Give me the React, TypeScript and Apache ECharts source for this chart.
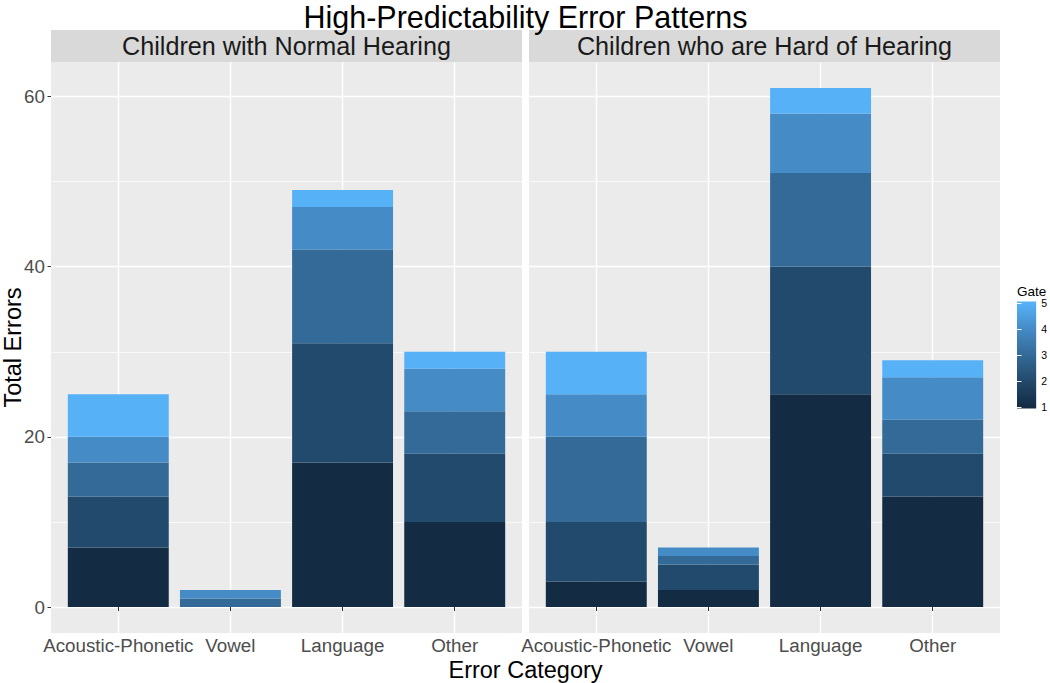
import React, { useEffect, useRef } from 'react';
import * as echarts from 'echarts';

const FONT = '"Liberation Sans", Arial, Helvetica, sans-serif';

const chartTitle = 'High-Predictability Error Patterns';
const panelTitles = ['Children with Normal Hearing', 'Children who are Hard of Hearing'];
const xTitle = 'Error Category';
const yTitle = 'Total Errors';
const legendTitle = 'Gate';

const categories = ['Acoustic-Phonetic', 'Vowel', 'Language', 'Other'];
const gates = [1, 2, 3, 4, 5];
const gateColors = ['#132B43', '#224A6C', '#336A98', '#458BC6', '#56B1F7'];

// errors per gate (rows) per category (columns)
const normalHearing = [
  [7, 0, 17, 10],
  [6, 0, 14, 8],
  [4, 1, 11, 5],
  [3, 1, 5, 5],
  [5, 0, 2, 2],
];
const hardOfHearing = [
  [3, 2, 25, 13],
  [7, 3, 15, 5],
  [10, 1, 11, 4],
  [5, 1, 7, 5],
  [5, 0, 3, 2],
];
const panelData = [normalHearing, hardOfHearing];

const yMajorTicks = [0, 20, 40, 60];
const yMinorTicks = [10, 30, 50];
const xTickPositions = [1, 2, 3, 4];

export default function App() {
  const ref = useRef<HTMLDivElement>(null);

  useEffect(() => {
    if (!ref.current) return;
    const chart = echarts.init(ref.current, null, { renderer: 'svg' });

    const panelLeft = [51, 529];
    const panelTop = 62;
    const panelW = 471;
    const panelH = 571;
    const yMin = -3.05;
    const yMax = 64.05;
    const legMin = 0.94;
    const legMax = 5.06;

    const gradient = {
      type: 'linear',
      x: 0,
      y: 1,
      x2: 0,
      y2: 0,
      colorStops: [
        { offset: 0, color: gateColors[0] },
        ...gates.map((g, i) => ({ offset: (g - legMin) / (legMax - legMin), color: gateColors[i] })),
        { offset: 1, color: gateColors[gateColors.length - 1] },
      ],
    };

    const tickLine = { color: '#333333', width: 1 };

    const majorY = (gridIndex: number, showLabels: boolean) => ({
      gridIndex,
      type: 'value',
      min: yMin,
      max: yMax,
      axisLine: { show: false },
      axisTick: { show: showLabels, customValues: yMajorTicks, length: 3.5, lineStyle: tickLine },
      axisLabel: {
        show: showLabels,
        customValues: yMajorTicks,
        color: '#4D4D4D',
        fontSize: 18.8,
        fontFamily: FONT,
        margin: 6,
      },
      splitLine: { show: true, lineStyle: { color: '#FFFFFF', width: 1.4 } },
    });
    const minorY = (gridIndex: number) => ({
      gridIndex,
      type: 'value',
      min: yMin,
      max: yMax,
      axisLine: { show: false },
      axisTick: { show: false, customValues: yMinorTicks },
      axisLabel: { show: false, customValues: yMinorTicks },
      splitLine: { show: true, lineStyle: { color: '#FFFFFF', width: 0.7 } },
    });

    const option: any = {
      animation: false,
      backgroundColor: '#FFFFFF',
      textStyle: { fontFamily: FONT },
      grid: [
        ...panelLeft.map((l) => ({
          left: l,
          top: panelTop,
          width: panelW,
          height: panelH,
          show: true,
          backgroundColor: '#EBEBEB',
          borderWidth: 0,
        })),
        { left: 1017, top: 301.5, width: 21, height: 107, show: true, borderWidth: 0, backgroundColor: gradient },
      ],
      xAxis: [
        ...[0, 1].map((i) => ({
          gridIndex: i,
          type: 'value',
          min: 0.4,
          max: 4.6,
          axisLine: { show: false },
          axisTick: { show: true, customValues: xTickPositions, length: 4, lineStyle: tickLine },
          axisLabel: {
            customValues: xTickPositions,
            formatter: (v: number) => categories[Math.round(v) - 1] ?? '',
            color: '#4D4D4D',
            fontSize: 18.8,
            fontFamily: FONT,
            margin: 3,
          },
          splitLine: { show: true, lineStyle: { color: '#FFFFFF', width: 1.4 } },
        })),
        { gridIndex: 2, type: 'value', min: 0, max: 1, show: false },
      ],
      yAxis: [
        majorY(0, true),
        minorY(0),
        majorY(1, false),
        minorY(1),
        {
          gridIndex: 2,
          type: 'value',
          min: legMin,
          max: legMax,
          position: 'right',
          axisLine: { show: false },
          axisTick: { show: true, inside: true, customValues: gates, length: 4.5, lineStyle: { color: '#FFFFFF', width: 1 } },
          axisLabel: { customValues: gates, color: '#000000', fontSize: 10.5, fontFamily: FONT, margin: 5 },
          splitLine: { show: false },
        },
        {
          gridIndex: 2,
          type: 'value',
          min: legMin,
          max: legMax,
          position: 'left',
          axisLine: { show: false },
          axisTick: { show: true, inside: true, customValues: gates, length: 4.5, lineStyle: { color: '#FFFFFF', width: 1 } },
          axisLabel: { show: false, customValues: gates },
          splitLine: { show: false },
        },
      ],
      series: panelData.flatMap((values, p) =>
        gates.map((g, gi) => ({
          type: 'bar',
          name: 'Gate ' + g,
          xAxisIndex: p,
          yAxisIndex: p * 2,
          stack: 'panel' + p,
          barWidth: '90%',
          silent: true,
          itemStyle: { color: gateColors[gi] },
          // [count, category position]: count first so that it is the stacked dimension
          encode: { x: 1, y: 0 },
          data: categories.map((_, ci) => [values[gi][ci], ci + 1]),
        }))
      ),
      graphic: [
        ...panelLeft.map((l) => ({
          type: 'rect',
          shape: { x: l, y: 30, width: panelW, height: 32 },
          style: { fill: '#D9D9D9' },
          silent: true,
        })),
        ...panelTitles.map((t, i) => ({
          type: 'text',
          x: panelLeft[i] + panelW / 2,
          y: 46,
          style: { text: t, fontSize: 25.2, fontFamily: FONT, fill: '#1A1A1A', align: 'center', verticalAlign: 'middle' },
          silent: true,
        })),
        {
          type: 'text',
          x: 525.5,
          y: 16.5,
          style: { text: chartTitle, fontSize: 30.5, fontFamily: FONT, fill: '#000000', align: 'center', verticalAlign: 'middle' },
          silent: true,
        },
        {
          type: 'text',
          x: 525.5,
          y: 669.5,
          style: { text: xTitle, fontSize: 23.5, fontFamily: FONT, fill: '#000000', align: 'center', verticalAlign: 'middle' },
          silent: true,
        },
        {
          type: 'text',
          x: 13,
          y: 347.5,
          rotation: Math.PI / 2,
          style: { text: yTitle, fontSize: 23.5, fontFamily: FONT, fill: '#000000', align: 'center', verticalAlign: 'middle' },
          silent: true,
        },
        {
          type: 'text',
          x: 1017,
          y: 291.5,
          style: { text: legendTitle, fontSize: 13.5, fontFamily: FONT, fill: '#000000', align: 'left', verticalAlign: 'middle' },
          silent: true,
        },
      ],
    };

    chart.setOption(option);
    return () => chart.dispose();
  }, []);

  return (
    <div
      ref={ref}
      style={{ position: 'fixed', left: 0, top: 0, width: 1050, height: 683, background: '#FFFFFF' }}
    />
  );
}
